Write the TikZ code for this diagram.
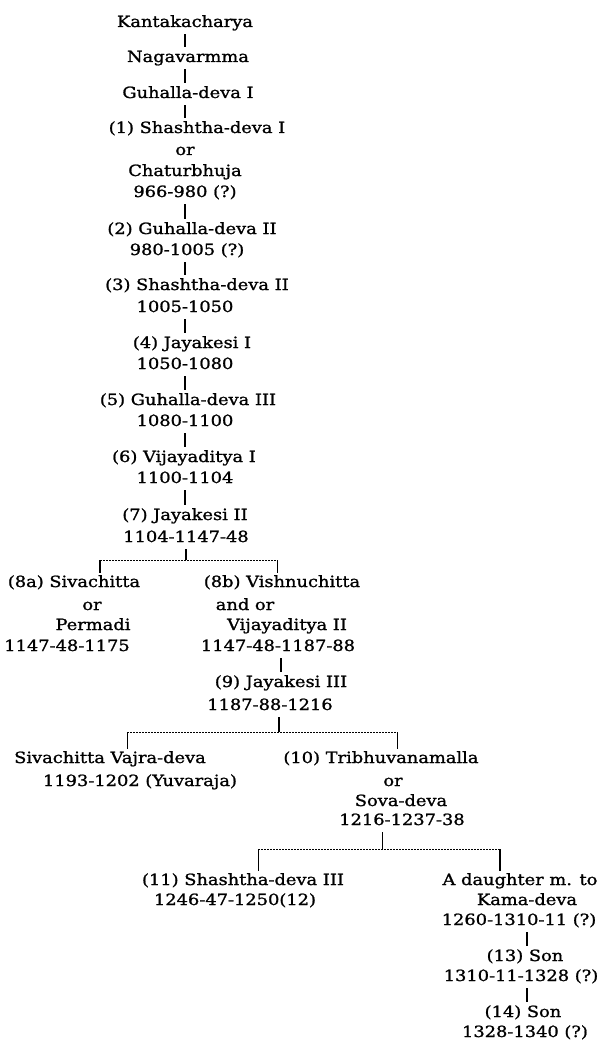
\documentclass[tikz,border=0pt]{standalone}
\usepackage{fontspec}
\setmainfont{DejaVu Serif}[FakeStretch=1.15, FakeBold=1.2]
\usetikzlibrary{calc}
\tikzset{
    gen/.style = { anchor=base, font=\fontsize{15.5}{18}\selectfont, inner sep=1pt, text height=11pt, text depth=3pt },
   stem/.style = { line width=2pt, shorten <=3pt, shorten >=3pt },
   twig/.style = { line width=0.6pt, shorten <=0pt, shorten >=2pt },
  split/.style = { line width=0.6pt, dash pattern=on 2pt off 1pt }
}

\begin{document}
\begin{tikzpicture}[x=1pt, y=1pt]
  \useasboundingbox (0,0) rectangle (607,-1043);

  % trunk
  \node (kant) at(185,-27)  [gen] {Kantakacharya};
  \node (naga) at(188,-62)  [gen] {Nagavarmma};
  \node (guh1) at(188,-98)  [gen] {Guhalla-deva I};

  \node (n1)   at(197,-133) [gen] {(1) Shashtha-deva I};
  \node (o1)   at(185,-155) [gen] {or};
  \node (c1)   at(185,-176) [gen] {Chaturbhuja};
  \node (d1)   at(185,-197) [gen] {966-980 (?)};

  \node (n2)   at(192,-234) [gen] {(2) Guhalla-deva II};
  \node (d2)   at(187,-255) [gen] {980-1005 (?)};
  \node (n3)   at(197,-290) [gen] {(3) Shashtha-deva II};
  \node (d3)   at(185,-312) [gen] {1005-1050};
  \node (n4)   at(192,-348) [gen] {(4) Jayakesi I};
  \node (d4)   at(185,-369) [gen] {1050-1080};
  \node (n5)   at(188,-405) [gen] {(5) Guhalla-deva III};
  \node (d5)   at(185,-426) [gen] {1080-1100};
  \node (n6)   at(184,-462) [gen] {(6) Vijayaditya I};
  \node (d6)   at(185,-483) [gen] {1100-1104};
  \node (n7)   at(185,-520) [gen] {(7) Jayakesi II};
  \node (d7)   at(186,-542) [gen] {1104-1147-48};

  \draw[stem] (kant) -- (kant |- naga.north);
  \draw[stem] (kant |- naga.south) -- (kant |- guh1.north);
  \draw[stem] (kant |- guh1.south) -- (kant |- n1.north);
  \draw[stem] (d1) -- (d1 |- n2.north);
  \draw[stem] (d1 |- d2.south) -- (d1 |- n3.north);
  \draw[stem] (d3) -- (d3 |- n4.north);
  \draw[stem] (d4) -- (d4 |- n5.north);
  \draw[stem] (d5) -- (d5 |- n6.north);
  \draw[stem] (d6) -- (d6 |- n7.north);

  % first fork
  \coordinate (f1)  at(186,-560);
  \coordinate (f1l) at(100,-560);
  \coordinate (f1r) at(277,-560);

  \node (n8a)  at(74,-587)  [gen] {(8a) Sivachitta};
  \node (o8a)  at(92,-610)  [gen] {or};
  \node (p8a)  at(93,-630)  [gen] {Permadi};
  \node (d8a)  at(67,-651)  [gen] {1147-48-1175};

  \node (n8b)  at(282,-587) [gen] {(8b) Vishnuchitta};
  \node (o8b)  at(245,-610) [gen] {and or};
  \node (v8b)  at(287,-630) [gen] {Vijayaditya II};
  \node (d8b)  at(278,-651) [gen] {1147-48-1187-88};

  \draw[stem, shorten >=0pt] (d7) -- (f1);
  \draw[split] (f1l) -- (f1r);
  \draw[stem, shorten <=0pt, shorten >=2pt] (f1l) -- (f1l |- n8a.north);
  \draw[twig] (f1r) -- (f1r |- n8b.north);

  \node (n9)   at(281,-687) [gen] {(9) Jayakesi III};
  \node (d9)   at(270,-710) [gen] {1187-88-1216};
  \draw[stem] (d8b.south -| n9) -- (n9);

  % second fork
  \coordinate (f2)  at(279,-732);
  \coordinate (f2l) at(127,-732);
  \coordinate (f2r) at(397,-732);

  \node (svd)  at(110,-763) [gen] {Sivachitta Vajra-deva};
  \node (dsv)  at(140,-786) [gen] {1193-1202 (Yuvaraja)};

  \node (n10)  at(381,-763) [gen] {(10) Tribhuvanamalla};
  \node (o10)  at(393,-786) [gen] {or};
  \node (s10)  at(401,-806) [gen] {Sova-deva};
  \node (d10)  at(402,-825) [gen] {1216-1237-38};

  \draw[stem, shorten >=0pt] (d9.south -| f2) -- (f2);
  \draw[split] (f2l) -- (f2r);
  \draw[twig] (f2l) -- (f2l |- svd.north);
  \draw[twig] (f2r) -- (f2r |- n10.north);

  % third fork
  \coordinate (f3)  at(382,-849);
  \coordinate (f3l) at(258,-849);
  \coordinate (f3r) at(500,-849);

  \node (n11)  at(243,-885) [gen] {(11) Shashtha-deva III};
  \node (d11)  at(235,-905) [gen] {1246-47-1250(12)};

  \node (dau)  at(520,-885) [gen] {A daughter m. to};
  \node (kam)  at(527,-905) [gen] {Kama-deva};
  \node (d12)  at(519,-925) [gen] {1260-1310-11 (?)};

  \draw[twig, shorten <=3pt, shorten >=0pt] (d10.south -| f3) -- (f3);
  \draw[split] (f3l) -- (f3r);
  \draw[twig] (f3l) -- (f3l |- n11.north);
  \draw[stem, shorten <=0pt, shorten >=2pt] (f3r) -- (f3r |- dau.north);

  \node (n13)  at(525,-961)  [gen] {(13) Son};
  \node (d13)  at(521,-981)  [gen] {1310-11-1328 (?)};
  \node (n14)  at(523,-1017) [gen] {(14) Son};
  \node (d14)  at(525,-1037) [gen] {1328-1340 (?)};

  \draw[stem] (d12.south -| kam) -- (kam |- n13.north);
  \draw[stem] (d13.south -| kam) -- (kam |- n14.north);
\end{tikzpicture}
\end{document}
